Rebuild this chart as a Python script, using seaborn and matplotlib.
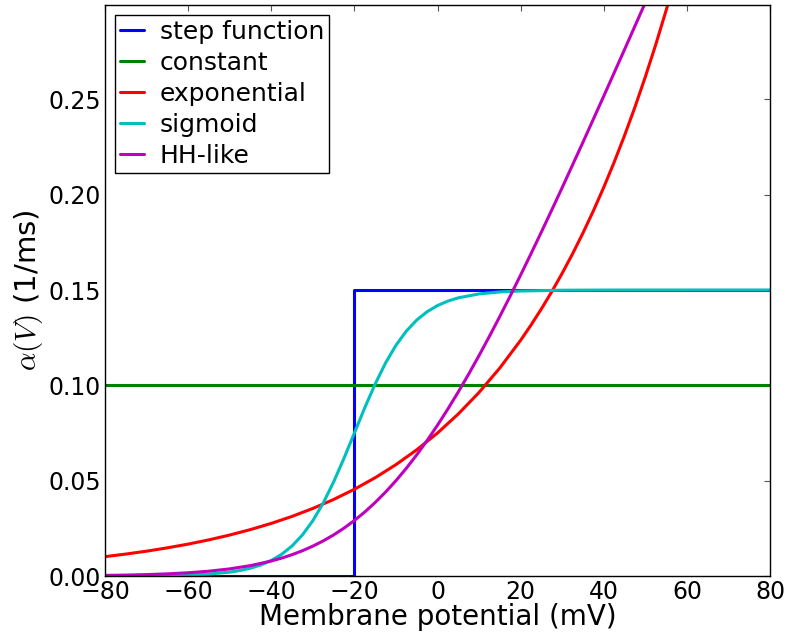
import matplotlib
matplotlib.use("Agg")
import matplotlib.pyplot as plt
import numpy as np
import pandas as pd
import seaborn as sns

# ---------------- data ----------------
labels = ["step function", "constant", "exponential", "sigmoid", "HH-like"]
colors = ["#0000ff", "#008000", "#ff0000", "#00bfbf", "#bf00bf"]

step_v = [-80, -20, -20, 80]
step_a = [0.0, 0.0, 0.15, 0.15]

const_v = [-80, 80]
const_a = [0.1, 0.1]

exp_v = [-80, -75, -70, -65, -60, -55, -50, -45, -40, -35, -30, -25, -20, -15,
         -10, -5, 0, 5, 10, 15, 20, 22.5, 25, 27.5, 30, 32.5, 35, 37.5, 40,
         42.5, 45, 47.5, 50, 52.5, 55, 57.5, 60, 65, 70, 75, 80]
exp_a = [0.01015, 0.01150, 0.01303, 0.01477, 0.01673, 0.01896, 0.02149, 0.02435,
         0.02759, 0.03126, 0.03543, 0.04014, 0.04549, 0.05155, 0.05841, 0.06619,
         0.07500, 0.08499, 0.09630, 0.10912, 0.12365, 0.13163, 0.14012, 0.14916,
         0.15878, 0.16901, 0.17992, 0.19152, 0.20387, 0.21702, 0.23102, 0.24591,
         0.26178, 0.27865, 0.29663, 0.31575, 0.33613, 0.38088, 0.43160, 0.48906,
         0.55418]

sig_v = [-80, -75, -70, -65, -60, -55, -50, -47.5, -45, -42.5, -40, -37.5, -35,
         -32.5, -30, -27.5, -25, -22.5, -20, -17.5, -15, -12.5, -10, -7.5, -5,
         -2.5, 0, 2.5, 5, 10, 15, 20, 30, 40, 50, 60, 70, 80]
sig_a = [0.0000284, 0.0000581, 0.000119, 0.000242, 0.000493, 0.001004, 0.002036,
         0.002894, 0.004103, 0.005794, 0.008148, 0.011379, 0.01575, 0.02154,
         0.0290, 0.03827, 0.04930, 0.06175, 0.075, 0.08825, 0.10070, 0.11173,
         0.1210, 0.12846, 0.13425, 0.138621, 0.141852, 0.144206, 0.145897,
         0.147964, 0.148996, 0.149507, 0.149881, 0.149972, 0.149993, 0.149998,
         0.15, 0.15]

hh_v = [-80, -75, -70, -65, -60, -55, -50, -45, -40, -37.5, -35, -32.5, -30,
        -27.5, -25, -22.5, -20, -17.5, -15, -12.5, -10, -7.5, -5, -2.5, 0, 2.5,
        5, 7.5, 10, 12.5, 15, 17.5, 20, 22.5, 25, 27.5, 30, 35, 40, 45, 50, 55,
        60, 65, 70, 75, 80]
hh_a = [0.000319, 0.000489, 0.000745, 0.001128, 0.001696, 0.002528, 0.003731,
        0.005449, 0.007859, 0.009390, 0.011178, 0.013254, 0.015652, 0.018403,
        0.021541, 0.025097, 0.029099, 0.033572, 0.038537, 0.044010, 0.05,
        0.056510, 0.063537, 0.071072, 0.079100, 0.087597, 0.096541, 0.105903,
        0.115652, 0.125754, 0.136178, 0.146890, 0.157859, 0.169055, 0.180449,
        0.192016, 0.203731, 0.227528, 0.251696, 0.276128, 0.300745, 0.325489,
        0.350319, 0.375207, 0.400134, 0.425086, 0.450055]

x_ticks = [-80, -60, -40, -20, 0, 20, 40, 60, 80]
y_ticks = [0.00, 0.05, 0.10, 0.15, 0.20, 0.25]

# ---------------- style ----------------
sns.set_theme(style="white")
plt.rcParams["font.family"] = ["DejaVu Sans"]
plt.rcParams["mathtext.fontset"] = "cm"
plt.rcParams["axes.edgecolor"] = "black"
plt.rcParams["axes.linewidth"] = 1.0
plt.rcParams["text.color"] = "black"
plt.rcParams["axes.labelcolor"] = "black"
plt.rcParams["xtick.color"] = "black"
plt.rcParams["ytick.color"] = "black"

fig = plt.figure(figsize=(7.87, 6.37), dpi=100)
ax = fig.add_axes([105 / 787, 61 / 637, 665 / 787, 571 / 637])

series = [(step_v, step_a), (const_v, const_a), (exp_v, exp_a),
          (sig_v, sig_a), (hh_v, hh_a)]
for (v, a), lab, col in zip(series, labels, colors):
    df = pd.DataFrame({"V": v, "alpha": a})
    sns.lineplot(data=df, x="V", y="alpha", color=col, label=lab, lw=2.2,
                 estimator=None, sort=False, ax=ax)

ax.set_xlim(-80, 80)
ax.set_ylim(0, 0.2995)
ax.set_xticks(x_ticks)
ax.set_yticks(y_ticks)
ax.set_yticklabels([f"{t:.2f}" for t in y_ticks])
ax.tick_params(direction="in", top=True, right=True, length=4, width=0.8,
               labelsize=17, color="#555555", labelcolor="black", pad=3)

ax.set_xlabel("Membrane potential (mV)", fontsize=20, labelpad=-1)
ax.set_ylabel(r"$\alpha(V)$ (1/ms)", fontsize=21, labelpad=2)

leg = ax.legend(loc="upper left", fontsize=18, frameon=True, fancybox=False,
                framealpha=1, edgecolor="black", handlelength=0.95,
                handletextpad=0.65, labelspacing=0.28, borderpad=0.2,
                borderaxespad=0.4)
leg.get_frame().set_linewidth(1.0)
for t in leg.get_texts():
    t.set_color("black")

fig.savefig("out.png", dpi=100)
